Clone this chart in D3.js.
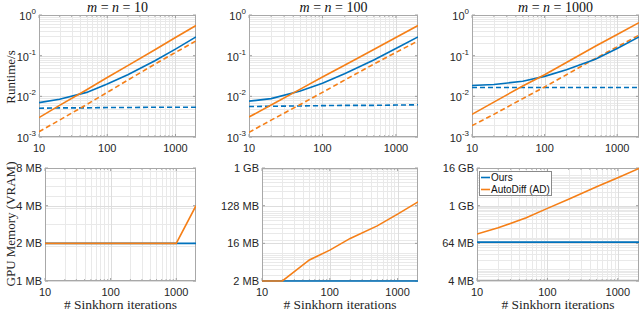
<!DOCTYPE html>
<html><head><meta charset="utf-8">
<script src="https://cdn.jsdelivr.net/npm/d3@7"></script>
<style>
html,body{margin:0;padding:0;background:#fff;}
svg{display:block;}
</style></head>
<body>
<svg id="chart" width="640" height="312"></svg>
<script>
// ---------------- DATA ----------------
const iters = [10, 20, 50, 100, 200, 500, 1000, 2000];
const titles = ["10", "100", "1000"];

// runtime (s): solid = forward+backward, dashed = forward
const rt10_ours    = [0.0070, 0.0085, 0.0125, 0.020, 0.034, 0.075, 0.145, 0.29];
const rt10_oursFwd = [0.0051, 0.0052, 0.0052, 0.0053, 0.0053, 0.0054, 0.0054, 0.0054];
const rt10_ad      = [0.0030, 0.0060, 0.0145, 0.029, 0.057, 0.14, 0.28, 0.55];
const rt10_adFwd   = [0.00135, 0.0026, 0.0063, 0.0125, 0.025, 0.062, 0.12, 0.23];

const rt100_ours    = [0.0076, 0.0088, 0.0135, 0.021, 0.036, 0.078, 0.15, 0.29];
const rt100_oursFwd = [0.0056, 0.0057, 0.0058, 0.0059, 0.0060, 0.0060, 0.0061, 0.0062];
const rt100_ad      = [0.0031, 0.0061, 0.015, 0.030, 0.058, 0.142, 0.28, 0.55];
const rt100_adFwd   = [0.0013, 0.0026, 0.0063, 0.0125, 0.025, 0.062, 0.12, 0.23];

const rt1000_ours    = [0.0185, 0.0195, 0.0235, 0.031, 0.045, 0.082, 0.15, 0.29];
const rt1000_oursFwd = [0.0165, 0.0165, 0.0165, 0.0165, 0.0165, 0.0165, 0.0165, 0.0165];
const rt1000_ad      = [0.0036, 0.0072, 0.018, 0.034, 0.068, 0.17, 0.33, 0.65];
const rt1000_adFwd   = [0.0019, 0.0036, 0.0088, 0.017, 0.034, 0.085, 0.165, 0.32];

// GPU memory (MB)
const mem10_ours   = [2, 2, 2, 2, 2, 2, 2, 2];
const mem10_ad     = [2, 2, 2, 2, 2, 2, 2, 4];
const mem100_ours  = [2, 2, 2, 2, 2, 2, 2, 2];
const mem100_ad    = [2, 2, 6.4, 11, 21, 42, 80, 158];
const mem1000_ours = [70, 70, 70, 70, 70, 70, 70, 70];
const mem1000_ad   = [127, 200, 420, 840, 1650, 4100, 8000, 15800];

const xTicks = [10, 100, 1000];
const rtTicks = [0.001, 0.01, 0.1, 1];
const rtTickExp = ["-3", "-2", "-1", "0"];
const memTicks = [[1, 2, 4, 8], [2, 16, 128, 1024], [4, 64, 1024, 16384]];
const memTickLabels = [["1 MB", "2 MB", "4 MB", "8 MB"], ["2 MB", "16 MB", "128 MB", "1 GB"], ["4 MB", "64 MB", "1 GB", "16 GB"]];
const legendLabels = ["Ours", "AutoDiff (AD)"];

// ---------------- STYLE / LAYOUT ----------------
const BLUE = "#0072BD", ORANGE = "#F57F17";
const topBoxes = [[39, 196], [249, 418], [472, 639]];
const botBoxes = [[45, 196], [262, 418], [477, 639]];
const topY = [15, 137], botY = [168, 281];
const SANS = "'Liberation Sans', Arial, Helvetica, sans-serif";
const SERIF = "'Liberation Serif', 'Times New Roman', serif";

const svg = d3.select("#chart");
const runtime = [
  [rt10_ours, rt10_oursFwd, rt10_ad, rt10_adFwd],
  [rt100_ours, rt100_oursFwd, rt100_ad, rt100_adFwd],
  [rt1000_ours, rt1000_oursFwd, rt1000_ad, rt1000_adFwd]
];
const memory = [[mem10_ours, mem10_ad], [mem100_ours, mem100_ad], [mem1000_ours, mem1000_ad]];

function minorTicks(lo, hi, unit) {
  const out = [];
  const a = lo * unit, b = hi * unit;
  for (let e = Math.floor(Math.log10(a)) - 1; e <= Math.ceil(Math.log10(b)) + 1; e++) {
    for (let k = 1; k <= 9; k++) {
      const v = k * Math.pow(10, e);
      if (v >= a * 1.0001 && v <= b * 0.9999) out.push(v / unit);
    }
  }
  return out;
}

let clipId = 0;
function panel(xr, yr, yDomain, yMajor, minorUnit) {
  const x = d3.scaleLog().domain([10, 2000]).range(xr);
  const y = d3.scaleLog().domain(yDomain).range([yr[1], yr[0]]);
  const g = svg.append("g");
  const xMinor = minorTicks(10, 2000, 1).filter(v => !xTicks.includes(v));
  const yMinor = minorTicks(yDomain[0], yDomain[1], minorUnit);
  g.selectAll(".xmg").data(xMinor).enter().append("line")
    .attr("x1", d => Math.round(x(d)) + 0.5).attr("x2", d => Math.round(x(d)) + 0.5)
    .attr("y1", yr[0]).attr("y2", yr[1])
    .attr("stroke", "#e9e9e9").attr("stroke-width", 1);
  g.selectAll(".ymg").data(yMinor).enter().append("line")
    .attr("y1", d => Math.round(y(d)) + 0.5).attr("y2", d => Math.round(y(d)) + 0.5)
    .attr("x1", xr[0]).attr("x2", xr[1])
    .attr("stroke", "#e9e9e9").attr("stroke-width", 1);
  g.selectAll(".xg").data(xTicks).enter().append("line")
    .attr("x1", d => Math.round(x(d)) + 0.5).attr("x2", d => Math.round(x(d)) + 0.5)
    .attr("y1", yr[0]).attr("y2", yr[1]).attr("stroke", "#dddddd").attr("stroke-width", 1);
  g.selectAll(".yg").data(yMajor).enter().append("line")
    .attr("y1", d => Math.round(y(d)) + 0.5).attr("y2", d => Math.round(y(d)) + 0.5)
    .attr("x1", xr[0]).attr("x2", xr[1]).attr("stroke", "#dddddd").attr("stroke-width", 1);
  const tk = g.append("g").attr("stroke", "#8a8a8a").attr("stroke-width", 0.8);
  xTicks.forEach(v => {
    tk.append("line").attr("x1", x(v)).attr("x2", x(v)).attr("y1", yr[1]).attr("y2", yr[1] - 3);
    tk.append("line").attr("x1", x(v)).attr("x2", x(v)).attr("y1", yr[0]).attr("y2", yr[0] + 3);
  });
  xMinor.forEach(v => {
    tk.append("line").attr("x1", x(v)).attr("x2", x(v)).attr("y1", yr[1]).attr("y2", yr[1] - 1.8);
    tk.append("line").attr("x1", x(v)).attr("x2", x(v)).attr("y1", yr[0]).attr("y2", yr[0] + 1.8);
  });
  yMajor.forEach(v => {
    tk.append("line").attr("y1", y(v)).attr("y2", y(v)).attr("x1", xr[0]).attr("x2", xr[0] + 3);
    tk.append("line").attr("y1", y(v)).attr("y2", y(v)).attr("x1", xr[1]).attr("x2", xr[1] - 3);
  });
  const id = "clip" + (clipId++);
  svg.append("clipPath").attr("id", id).append("rect")
    .attr("x", xr[0]).attr("y", yr[0] - 2).attr("width", xr[1] - xr[0]).attr("height", yr[1] - yr[0] + 4);
  svg.append("rect").attr("x", xr[0] + 0.5).attr("y", yr[0] + 0.5)
    .attr("width", xr[1] - xr[0] - 1).attr("height", yr[1] - yr[0] - 1)
    .attr("fill", "none").attr("stroke", "#a8a8a8").attr("stroke-width", 1);
  const lines = svg.append("g").attr("clip-path", `url(#${id})`);
  svg.append("g").selectAll("text").data(xTicks).enter().append("text")
    .attr("x", d => x(d)).attr("y", yr[1] + 15)
    .attr("text-anchor", "middle").attr("font-family", SANS).attr("font-size", 11)
    .attr("fill", "#262626").text(d => d);
  return { x, y, lines };
}

function lineGen(x, y) {
  return d3.line().x((d, i) => x(iters[i])).y(d => y(d));
}

// ---------- top row: runtime ----------
topBoxes.forEach((xr, p) => {
  const P = panel(xr, topY, [0.001, 1], rtTicks, 1);
  const lg = lineGen(P.x, P.y);
  const [ours, oursF, ad, adF] = runtime[p];
  const series = [
    { d: oursF, c: BLUE, dash: "5,3" },
    { d: adF, c: ORANGE, dash: "5,3" },
    { d: ours, c: BLUE, dash: null },
    { d: ad, c: ORANGE, dash: null }
  ];
  series.forEach(s => {
    P.lines.append("path").attr("d", lg(s.d)).attr("fill", "none")
      .attr("stroke", s.c).attr("stroke-width", 1.6)
      .attr("stroke-dasharray", s.dash);
  });
  const yl = svg.append("g").attr("font-family", SANS).attr("fill", "#262626");
  rtTicks.forEach((v, i) => {
    const t = yl.append("text").attr("x", xr[0] - 3).attr("y", P.y(v) + 5)
      .attr("text-anchor", "end").attr("font-size", 11);
    t.append("tspan").text("10");
    t.append("tspan").attr("dy", -6).attr("font-size", 8).text(rtTickExp[i]);
  });
  const tt = svg.append("text").attr("x", (xr[0] + xr[1]) / 2).attr("y", 12)
    .attr("text-anchor", "middle").attr("font-family", SERIF).attr("font-size", 14)
    .attr("fill", "#111");
  tt.append("tspan").attr("font-style", "italic").text("m");
  tt.append("tspan").text(" = ");
  tt.append("tspan").attr("font-style", "italic").text("n");
  tt.append("tspan").text(" = " + titles[p]);
});

// ---------- bottom row: memory ----------
botBoxes.forEach((xr, p) => {
  const ticks = memTicks[p];
  const P = panel(xr, botY, [ticks[0], ticks[ticks.length - 1]], ticks, 1048576);
  const lg = lineGen(P.x, P.y);
  const [ours, ad] = memory[p];
  P.lines.append("path").attr("d", lg(ours)).attr("fill", "none").attr("stroke", BLUE).attr("stroke-width", 1.6);
  P.lines.append("path").attr("d", lg(ad)).attr("fill", "none").attr("stroke", ORANGE).attr("stroke-width", 1.6);
  svg.append("g").selectAll("text").data(ticks).enter().append("text")
    .attr("x", xr[0] - 3).attr("y", d => P.y(d) + 4)
    .attr("text-anchor", "end").attr("font-family", SANS).attr("font-size", 11)
    .attr("fill", "#262626").text((d, i) => memTickLabels[p][i]);
  svg.append("text").attr("x", (xr[0] + xr[1]) / 2).attr("y", 309)
    .attr("text-anchor", "middle").attr("font-family", SERIF).attr("font-size", 13.5)
    .attr("fill", "#262626").text("# Sinkhorn iterations");
});

svg.append("text").attr("transform", "translate(15,77) rotate(-90)")
  .attr("text-anchor", "middle").attr("font-family", SERIF).attr("font-size", 13)
  .attr("fill", "#262626").text("Runtime/s");
svg.append("text").attr("transform", "translate(15,224) rotate(-90)")
  .attr("text-anchor", "middle").attr("font-family", SERIF).attr("font-size", 13)
  .attr("fill", "#262626").text("GPU Memory (VRAM)");

const lgX = 479, lgY = 171;
const leg = svg.append("g");
leg.append("rect").attr("x", lgX + 0.5).attr("y", lgY + 0.5).attr("width", 72).attr("height", 24)
  .attr("fill", "#fff").attr("stroke", "#8a8a8a").attr("stroke-width", 1);
[BLUE, ORANGE].forEach((c, i) => {
  const yy = lgY + 6.5 + i * 12;
  leg.append("line").attr("x1", lgX + 2).attr("x2", lgX + 11).attr("y1", yy).attr("y2", yy)
    .attr("stroke", c).attr("stroke-width", 1.6);
  leg.append("text").attr("x", lgX + 12).attr("y", yy + 3.8)
    .attr("font-family", SANS).attr("font-size", 10).attr("fill", "#111").text(legendLabels[i]);
});
</script>
</body></html>
